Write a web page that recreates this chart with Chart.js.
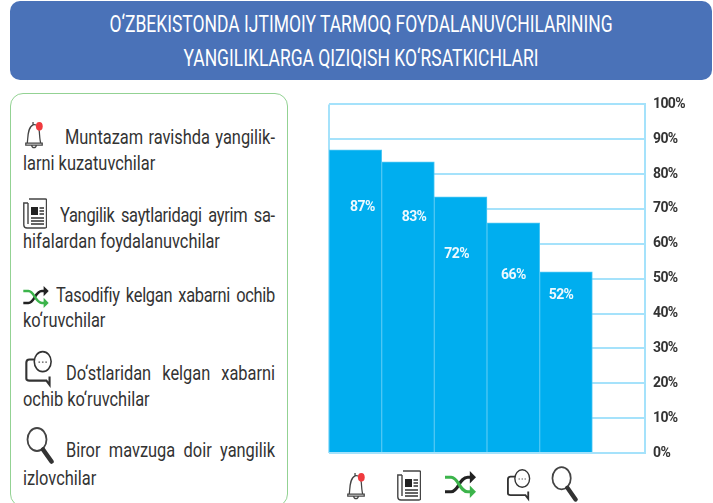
<!DOCTYPE html>
<html lang="uz">
<head>
  <meta charset="UTF-8">
  <title>Yangiliklarga qiziqish</title>
  <script src="https://cdn.jsdelivr.net/npm/chart.js"></script>
  <style>
    html, body { margin: 0; padding: 0; background: #fff; overflow: hidden; }
    body { width: 713px; height: 503px; position: relative; font-family: Roboto, sans-serif; color: #333; }
    #sarlavha { position: absolute; left: 10px; top: 1px; width: 702px; height: 79px; background: #4a72b8; border-radius: 10px; }
    .bosh { position: absolute; left: 10px; width: 702px; text-align: center; color: #fff; font-size: 23px; line-height: 34px; white-space: nowrap; transform: scaleX(.76); }
    #panel { position: absolute; left: 10px; top: 93px; width: 278px; height: 414px; border: 1.5px solid #93d293; border-radius: 13px; box-sizing: border-box; }
    /* Roboto condensed yo'q, shuning uchun eni siqiladi */
    .satr { position: absolute; font-size: 20px; line-height: 24px; white-space: nowrap; transform: scaleX(.82); transform-origin: left center; }
    .just { text-align: justify; text-align-last: justify; white-space: normal; }
    .zich { letter-spacing: -.35px; word-spacing: -1px; }
    #grafik { position: absolute; left: 310px; top: 88px; }
    svg.ikon { position: absolute; overflow: visible; }
  </style>
</head>
<body>
  <svg width="0" height="0" style="position:absolute">
    <symbol id="qongiroq" viewBox="0 0 20 30">
      <path d="M3 24 C4 18 3 8 9 5 C13 4 15 7 15.500 12 C16 18 16 21 17 24 Z M1.500 24 H18.500 V26 H1.500 Z M7.500 26 C8 29.500 12 29.500 12.500 26 M9 5 V2" fill="none" stroke="#444" stroke-width="1.300"/>
      <ellipse cx="15.500" cy="6.500" rx="3.500" ry="4.500" fill="#f03a3e"/>
    </symbol>
    <symbol id="gazeta" viewBox="0 0 24 32">
      <path d="M6 2 H22.500 Q23.500 2 23.500 3 V30 Q23.500 31 22 31 H4 Q.8 31 .8 28 V6 H5 M5 6 V27" fill="none" stroke="#444" stroke-width="1.400"/>
      <rect x="8" y="10" width="7" height="8" fill="#222"/>
      <path d="M16.500 11 H21 M16.500 14 H21 M16.500 17 H21 M8 21 H21 M8 24 H21 M8 27 H21" stroke="#333" stroke-width="1.500"/>
    </symbol>
    <symbol id="aralash" viewBox="0 0 30 26">
      <path d="M0 20 H6 C13 20 14 6 22 6 H25" fill="none" stroke="#222" stroke-width="3"/>
      <path d="M24 0 L30 6 L24 12 Z" fill="#222"/>
      <path d="M0 6 H6 C13 6 14 20 22 20 H25" fill="none" stroke="#3cb44b" stroke-width="3"/>
      <path d="M24 14 L30 20 L24 26 Z" fill="#3cb44b"/>
    </symbol>
    <symbol id="suhbat" viewBox="0 0 26 36">
      <path d="M9 9 H4 Q1 9 1 12 V27 Q1 29 4 29 H20 L23 33 V25" fill="none" stroke="#333" stroke-width="2"/>
      <ellipse cx="16.500" cy="11" rx="8" ry="9.500" fill="#fff" stroke="#333" stroke-width="1.500"/>
      <path d="M12.500 11.500 H14 M15.800 11.500 H17.300 M19 11.500 H20.500" stroke="#555" stroke-width="1.300"/>
    </symbol>
    <symbol id="qidiruv" viewBox="0 0 28 38">
      <ellipse cx="11" cy="13" rx="9.500" ry="11.500" fill="none" stroke="#444" stroke-width="1.800"/>
      <path d="M17 23 L25.500 35" stroke="#333" stroke-width="4.500" stroke-linecap="round"/>
    </symbol>
  </svg>

  <div id="sarlavha"></div>
  <div class="bosh" style="top:8px">O‘ZBEKISTONDA IJTIMOIY TARMOQ FOYDALANUVCHILARINING</div>
  <div class="bosh" style="top:42px">YANGILIKLARGA QIZIQISH KO‘RSATKICHLARI</div>
  <div id="panel"></div>

  <!-- matn qatorlari (width = haqiqiy en / 0.82) -->
  <div class="satr just" style="left:65px;top:125px;width:256px">Muntazam ravishda yangilik-</div>
  <div class="satr" style="left:23px;top:151px">larni kuzatuvchilar</div>
  <div class="satr just zich" style="left:60px;top:203px;width:262px">Yangilik saytlaridagi ayrim sa-</div>
  <div class="satr" style="left:23px;top:229px">hifalardan foydalanuvchilar</div>
  <div class="satr just zich" style="left:56px;top:283px;width:267px">Tasodifiy kelgan xabarni ochib</div>
  <div class="satr" style="left:23px;top:308px">ko‘ruvchilar</div>
  <div class="satr just" style="left:66px;top:361px;width:255px">Do‘stlaridan kelgan xabarni</div>
  <div class="satr" style="left:23px;top:387px">ochib ko‘ruvchilar</div>
  <div class="satr just" style="left:66px;top:438px;width:255px">Biror mavzuga doir yangilik</div>
  <div class="satr" style="left:23px;top:466px">izlovchilar</div>

  <canvas id="grafik" width="403" height="383"></canvas>

  <!-- chapdagi ikonkalar -->
  <svg class="ikon" style="left:24px;top:120px" width="20" height="29"><use href="#qongiroq"/></svg>
  <svg class="ikon" style="left:23px;top:197px" width="24" height="32"><use href="#gazeta"/></svg>
  <svg class="ikon" style="left:23px;top:286px" width="26" height="22"><use href="#aralash"/></svg>
  <svg class="ikon" style="left:25px;top:350px" width="28" height="38"><use href="#suhbat"/></svg>
  <svg class="ikon" style="left:26px;top:426px" width="28" height="39"><use href="#qidiruv"/></svg>

  <!-- pastdagi ikonkalar -->
  <svg class="ikon" style="left:346px;top:471px" width="20" height="29"><use href="#qongiroq"/></svg>
  <svg class="ikon" style="left:397px;top:469px" width="24" height="32"><use href="#gazeta"/></svg>
  <svg class="ikon" style="left:445px;top:471px" width="31" height="27"><use href="#aralash"/></svg>
  <svg class="ikon" style="left:507px;top:468px" width="24" height="34"><use href="#suhbat"/></svg>
  <svg class="ikon" style="left:551px;top:465px" width="27" height="38"><use href="#qidiruv"/></svg>

<script>
  // Ma'lumotlar: ustun balandligi rasmdan o'qilgan, yozuvlar rasmdagidek
  var kategoriyalar = ['Muntazam', 'Saytlar', 'Tasodifiy', 'Do‘stlar', 'Izlovchilar', ''];
  var qiymatlar = [87, 83.5, 73.5, 66, 52, null];
  var yozuvlar = ['87%', '83%', '72%', '66%', '52%'];

  // Foizlar ustun ichida har xil joyda turadi
  var yozuvSiljishX = [7, 6, -4, 0, -5];
  var yozuvSiljishY = [58, 56, 58, 53, 24];

  var chiziqRangi = '#a5e2fb';

  var foizYozuvlari = {
    id: 'foizYozuvlari',
    beforeDraw: function (chart) {
      // tor shrift yo'q, harflar orasi qisqartiriladi
      chart.ctx.letterSpacing = '-0.6px';
    },
    afterDatasetsDraw: function (chart) {
      var ctx = chart.ctx;
      var bars = chart.getDatasetMeta(0).data;
      ctx.save();
      ctx.fillStyle = '#eef9fe';
      ctx.font = 'bold 14px Roboto, sans-serif';
      ctx.textAlign = 'center';
      ctx.textBaseline = 'middle';
      for (var i = 0; i < yozuvlar.length; i++) {
        ctx.fillText(yozuvlar[i], bars[i].x + yozuvSiljishX[i], bars[i].y + yozuvSiljishY[i]);
      }
      ctx.restore();
    }
  };

  new Chart(document.getElementById('grafik'), {
    type: 'bar',
    data: {
      labels: kategoriyalar,
      datasets: [{
        data: qiymatlar,
        backgroundColor: '#00aeef',
        borderColor: '#4cc6f3',
        borderWidth: 1,
        categoryPercentage: 1,
        barPercentage: 1
      }]
    },
    options: {
      responsive: false,
      animation: false,
      layout: { padding: { left: 19, top: 14, bottom: 18, right: 0 } },
      plugins: { legend: { display: false }, tooltip: { enabled: false } },
      scales: {
        x: {
          ticks: { display: false },
          border: { display: false },
          grid: {
            drawTicks: false,
            lineWidth: 2,
            color: function (c) { return c.index === 0 ? chiziqRangi : 'rgba(0,0,0,0)'; }
          }
        },
        y: {
          position: 'right',
          min: 0,
          max: 100,
          afterFit: function (scale) { scale.width = 68; },
          border: { color: chiziqRangi, width: 2 },
          grid: { color: chiziqRangi, lineWidth: 2, drawTicks: false },
          ticks: {
            stepSize: 10,
            padding: 8,
            color: '#333',
            font: { family: 'Roboto, sans-serif', size: 14, weight: 'bold' },
            callback: function (v) { return v + '%'; }
          }
        }
      }
    },
    plugins: [foizYozuvlari]
  });
</script>
</body>
</html>
